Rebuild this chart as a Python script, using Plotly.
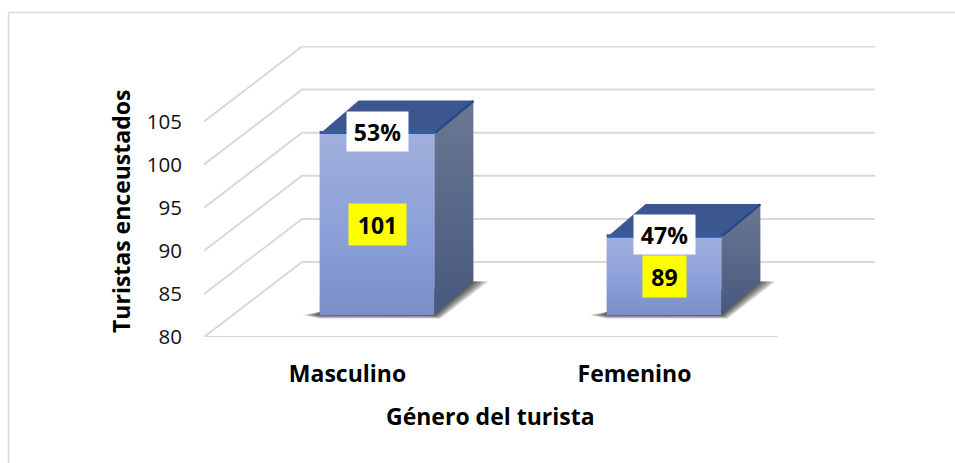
import plotly.graph_objects as go

# ---- data ----
categories = ["Masculino", "Femenino"]
turistas = [101, 89]
porcentajes = [53, 47]
y_ticks = [80, 85, 90, 95, 100, 105]
x_title = "Género del turista"
y_title = "Turistas enceustados"

# ---- layout constants (pixels) ----
W, H = 955, 463
FONT = "Open Sans"
LEFT, FRONT_RIGHT, RIGHT = 204, 778, 875
FLOOR, TOP = 337, 46
PX_PER_UNIT = 8.62
PX_PER_CAT = (FRONT_RIGHT - LEFT) / 2
WALL_DX, WALL_DY = 98, 75          # depth of the 3-D box
BAR_DX, BAR_DY = 29.5, 22          # bar plane offset from front plane
COL_DX, COL_DY = 39, 33.5          # depth of one column
BAR_W = 0.4
BASE = y_ticks[0]
GRID = "#d9d9d9"

ux = lambda px: px / PX_PER_CAT
uy = lambda px: px / PX_PER_UNIT

x_range = [-0.5, -0.5 + ux(RIGHT - LEFT)]
y_range = [BASE, BASE + uy(FLOOR - TOP)]
x2_range = [v - ux(BAR_DX) for v in x_range]
y2_range = [v - uy(BAR_DY) for v in y_range]

fig = go.Figure()

# back wall, side wall and floor grid
for t in y_ticks:
    xs = [-0.5, -0.5 + ux(WALL_DX), 1.5 + ux(WALL_DX)]
    ys = [t, t + uy(WALL_DY), t + uy(WALL_DY)]
    fig.add_trace(go.Scatter(x=xs, y=ys, mode="lines", line=dict(color=GRID, width=2),
                             hoverinfo="skip", showlegend=False))
fig.add_trace(go.Scatter(x=[-0.5, 1.5], y=[BASE, BASE], mode="lines",
                         line=dict(color=GRID, width=2), hoverinfo="skip", showlegend=False))

# soft shadow on the floor
for s in [1.0, 0.82, 0.64, 0.46, 0.28, 0.12]:
    for i in range(len(categories)):
        x0, x1 = i - BAR_W / 2, i + BAR_W / 2
        xs = [x0 - ux(17 * s), x0, x1 + ux(COL_DX), x1 + ux(COL_DX + 15 * s), x1 + ux(6 * s), x0, x0 - ux(17 * s)]
        ys = [BASE, BASE + uy(3), BASE + uy(COL_DY), BASE + uy(COL_DY), BASE - uy(3.5 * s), BASE - uy(3.5 * s), BASE]
        fig.add_trace(go.Scatter(x=xs, y=ys, xaxis="x2", yaxis="y2", mode="lines", fill="toself",
                                 fillcolor="rgba(20,20,20,0.17)", line=dict(width=0),
                                 hoverinfo="skip", showlegend=False))

# front faces of the columns
fig.add_trace(go.Bar(x=list(range(len(categories))), y=[v - BASE for v in turistas], base=BASE,
                     width=BAR_W, xaxis="x2", yaxis="y2", marker=dict(color="#8ca0d6", line=dict(width=0)),
                     customdata=categories, hovertemplate="%{customdata}: %{y}<extra></extra>", showlegend=False))

for i, v in enumerate(turistas):
    x0, x1 = i - BAR_W / 2, i + BAR_W / 2
    ddx, ddy = ux(COL_DX), uy(COL_DY)
    common = dict(xaxis="x2", yaxis="y2", hoverinfo="skip", showlegend=False)
    # front gradient
    fig.add_trace(go.Scatter(x=[x0, x1, x1, x0, x0], y=[BASE, BASE, v, v, BASE], mode="lines", fill="toself",
                             line=dict(width=0),
                             fillgradient=dict(type="vertical",
                                               colorscale=[[0, "#7a8fc8"], [0.5, "#8da2d9"], [1, "#a0aedb"]]),
                             **common))
    # right side face
    fig.add_trace(go.Scatter(x=[x1, x1 + ddx, x1 + ddx, x1, x1], y=[BASE, BASE + ddy, v + ddy, v, BASE],
                             mode="lines", fill="toself", line=dict(width=0),
                             fillgradient=dict(type="vertical",
                                               colorscale=[[0, "#47587f"], [1, "#6b7892"]]),
                             **common))
    # top face
    fig.add_trace(go.Scatter(x=[x0, x1, x1 + ddx, x0 + ddx, x0], y=[v, v, v + ddy, v + ddy, v], mode="lines",
                             fill="toself", fillcolor="#3c5690", line=dict(width=0), **common))
    # bright bevel on the front top edge, dark bevel on the side top edge
    fig.add_trace(go.Scatter(x=[x0, x1], y=[v + uy(1.5), v + uy(1.5)], mode="lines",
                             line=dict(color="#2f5ca8", width=3.2), **common))
    fig.add_trace(go.Scatter(x=[x1 + ux(1), x1 + ddx], y=[v + uy(1.5), v + ddy - uy(0.5)], mode="lines",
                             line=dict(color="#274a86", width=2.4), **common))

# value and percentage labels
VALUE_BOX_W = [55, 41]
annotations = []
for i, v in enumerate(turistas):
    annotations.append(dict(x=i, y=(BASE + v) / 2, xref="x2", yref="y2", text=f"<b>{v}</b>", showarrow=False,
                            font=dict(family=FONT, size=23, color="black"), bgcolor="#ffff00",
                            width=VALUE_BOX_W[i], height=39, align="center", valign="middle"))
for i, v in enumerate(turistas):
    annotations.append(dict(x=i, y=v + uy(2.5), xref="x2", yref="y2", text=f"<b>{porcentajes[i]}%</b>", showarrow=False,
                            font=dict(family=FONT, size=23, color="black"), bgcolor="white",
                            width=59, height=37, align="center", valign="middle"))
annotations.append(dict(x=490 / W, y=1 - 416 / H, xref="paper", yref="paper", xanchor="center", yanchor="middle",
                        text=f"<b>{x_title}</b>", showarrow=False, font=dict(family=FONT, size=23, color="black")))
annotations.append(dict(x=121 / W, y=1 - 211 / H, xref="paper", yref="paper", xanchor="center", yanchor="middle",
                        text=f"<b>{y_title}</b>", showarrow=False, textangle=-90,
                        font=dict(family=FONT, size=23, color="black")))

x_domain = [LEFT / W, RIGHT / W]
y_domain = [1 - FLOOR / H, 1 - TOP / H]

fig.update_layout(
    width=W, height=H, autosize=False,
    margin=dict(l=0, r=0, t=0, b=0),
    paper_bgcolor="white", plot_bgcolor="rgba(0,0,0,0)",
    bargap=0,
    xaxis=dict(domain=x_domain, range=x_range, tickmode="array", tickvals=[0, 1], ticktext=[f"<b>{c}</b>" for c in categories],
               showgrid=False, zeroline=False, showline=False, ticks="outside", ticklen=16, tickcolor="rgba(0,0,0,0)",
               tickfont=dict(family=FONT, size=23, color="black"), fixedrange=True, automargin=False),
    yaxis=dict(domain=y_domain, range=y_range, tickmode="array", tickvals=y_ticks, ticktext=[str(t) for t in y_ticks],
               showgrid=False, zeroline=False, showline=False, ticks="outside", ticklen=17, tickcolor="rgba(0,0,0,0)",
               tickfont=dict(family=FONT, size=20.5, color="#111111"), fixedrange=True, automargin=False),
    xaxis2=dict(domain=x_domain, range=x2_range, overlaying="x", anchor="y2", visible=False, fixedrange=True, automargin=False),
    yaxis2=dict(domain=y_domain, range=y2_range, overlaying="y", anchor="x2", visible=False, fixedrange=True, automargin=False),
    annotations=annotations,
    shapes=[
        dict(type="line", xref="paper", yref="paper", x0=8.5 / W, x1=8.5 / W, y0=0, y1=1 - 12.5 / H,
             line=dict(color=GRID, width=1.5)),
        dict(type="line", xref="paper", yref="paper", x0=8.5 / W, x1=1, y0=1 - 12.5 / H, y1=1 - 12.5 / H,
             line=dict(color=GRID, width=1.5)),
    ],
)

fig.write_html("out.html", config=dict(displayModeBar=False, responsive=False),
               default_width=f"{W}px", default_height=f"{H}px",
               post_script="document.body.style.margin='0';document.documentElement.style.overflow='hidden';")
